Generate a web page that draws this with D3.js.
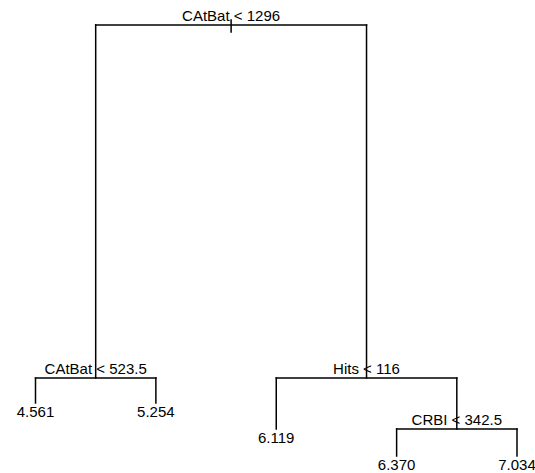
<!DOCTYPE html>
<html>
<head>
<meta charset="utf-8">
<script src="https://cdn.jsdelivr.net/npm/d3@7"></script>
<style>
  html, body { margin: 0; padding: 0; background: #fff; }
  svg { display: block; }
  text { font-family: "Liberation Sans", Arial, Helvetica, sans-serif; fill: #000; }
</style>
</head>
<body>
<svg id="chart" width="535" height="473"></svg>
<script>
// Regression tree (R "tree" style), node numbering: children of n are 2n and 2n+1
const nodeIds    = [1, 2, 3, 4, 5, 6, 7, 14, 15];
const splitVars  = ["CAtBat", "CAtBat", "Hits", null, null, null, "CRBI", null, null];
const splitCuts  = ["1296", "523.5", "116", null, null, null, "342.5", null, null];
const leafValues = [null, null, null, "4.561", "5.254", "6.119", null, "6.370", "7.034"];
// proportional height of each node (cumulative deviance scale)
const nodeHeight = [207.2, 42.8, 42.8, 31.2, 31.2, 19.1, 19.1, 6.5, 6.5];

const svg = d3.select("#chart");
const W = 535, H = 473;

const nodes = nodeIds.map((id, i) => ({
  id, var: splitVars[i], cut: splitCuts[i], yval: leafValues[i], h: nodeHeight[i]
}));
const byId = new Map(nodes.map(n => [n.id, n]));
nodes.forEach(n => {
  n.left = byId.get(2 * n.id) || null;
  n.right = byId.get(2 * n.id + 1) || null;
  n.leaf = !n.left;
});

// leaf order (in-order traversal)
const leaves = [];
(function walk(n) { if (n.leaf) leaves.push(n); else { walk(n.left); walk(n.right); } })(byId.get(1));
leaves.forEach((l, i) => l.order = i + 1);

const x = d3.scaleLinear().domain([1, leaves.length]).range([35.5, 517]);
const y = d3.scaleLinear().domain([0, 207.2]).range([470, 25]);

(function setX(n) {
  if (n.leaf) n.x = x(n.order);
  else { setX(n.left); setX(n.right); n.x = (n.left.x + n.right.x) / 2; }
})(byId.get(1));

const g = svg.append("g");
const segs = [];
nodes.forEach(n => {
  if (n.leaf) return;
  const yy = y(n.h);
  segs.push([n.left.x, yy, n.right.x, yy]);
  [n.left, n.right].forEach(c => segs.push([c.x, yy, c.x, y(c.h)]));
});
const root = byId.get(1);
segs.push([root.x, y(root.h) - 5, root.x, y(root.h) + 7]);

g.selectAll("line.seg").data(segs).join("line")
  .attr("class", "seg")
  .attr("x1", d => d[0]).attr("y1", d => d[1])
  .attr("x2", d => d[2]).attr("y2", d => d[3])
  .attr("stroke", "#000").attr("stroke-width", 1.5)
  .attr("stroke-linecap", "square");

g.selectAll("text.split").data(nodes.filter(n => !n.leaf)).join("text")
  .attr("class", "split")
  .attr("x", d => d.x).attr("y", d => y(d.h) - 4)
  .attr("text-anchor", "middle")
  .attr("font-size", 15)
  .text(d => d.var + " < " + d.cut);

g.selectAll("text.leaf").data(leaves).join("text")
  .attr("class", "leaf")
  .attr("x", d => d.x).attr("y", d => y(d.h) + 14)
  .attr("text-anchor", "middle")
  .attr("font-size", 15)
  .text(d => d.yval);
</script>
</body>
</html>
